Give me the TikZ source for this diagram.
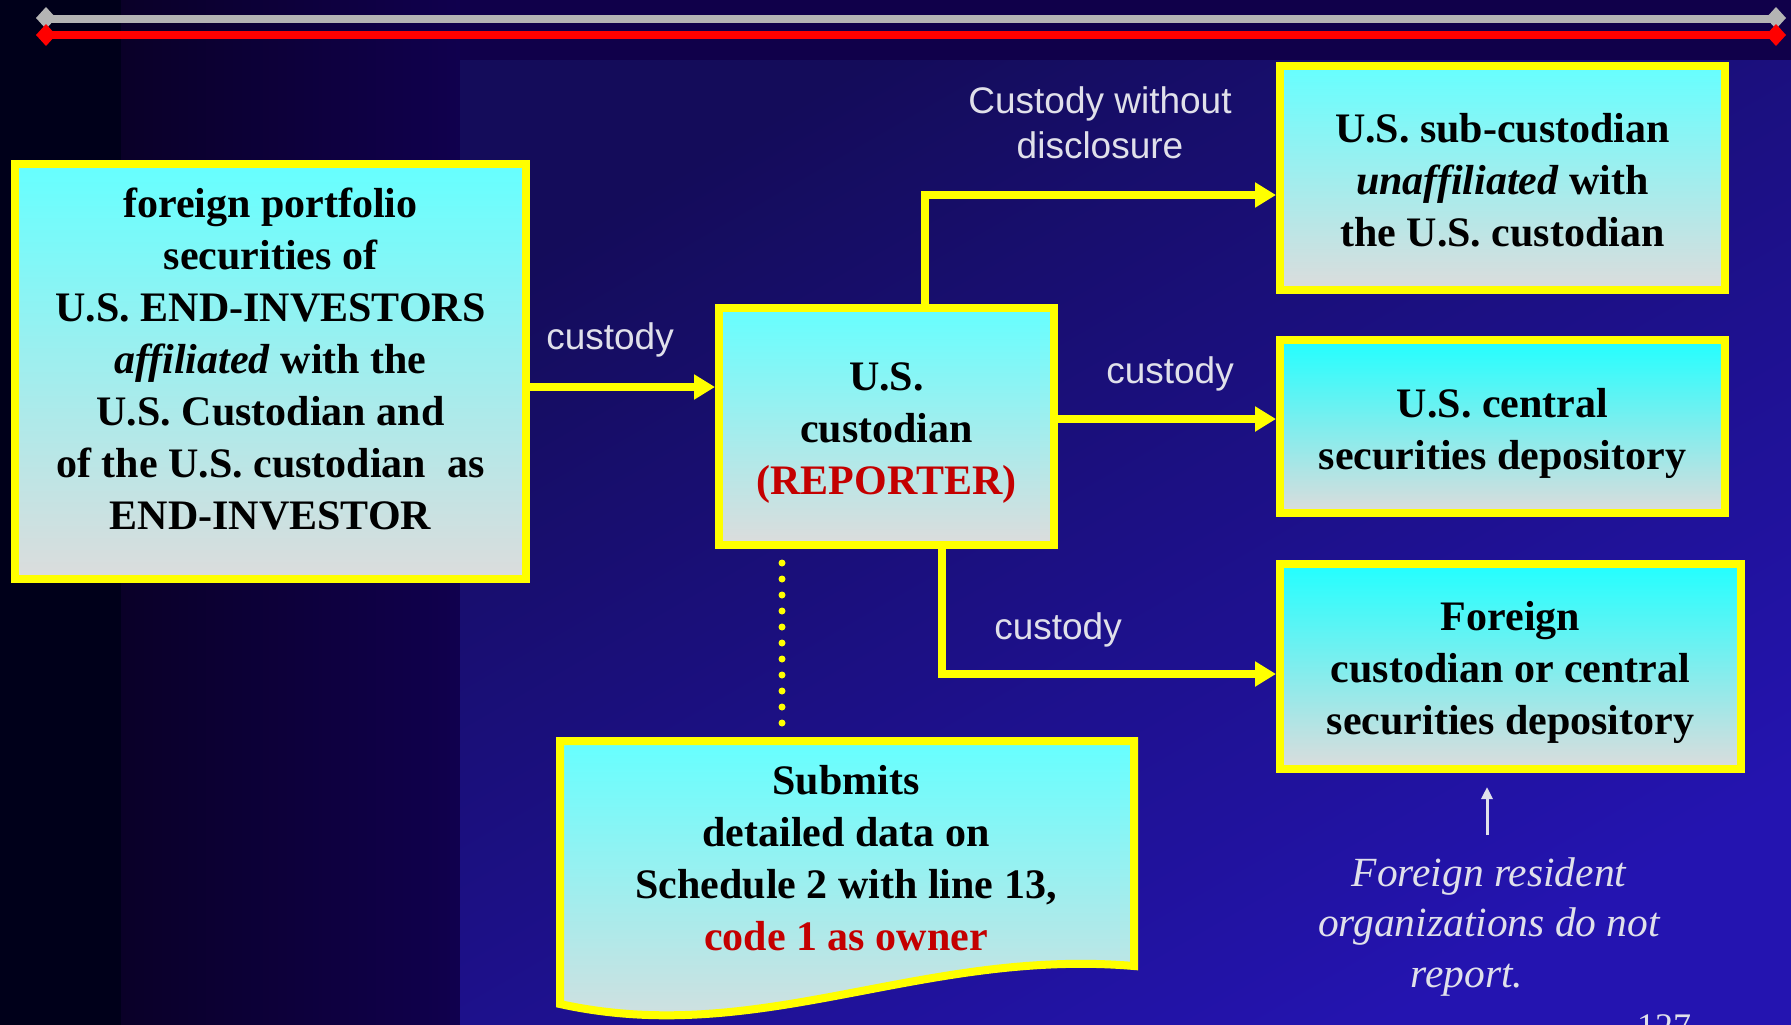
\documentclass[tikz,border=0pt]{standalone}
\usepackage{fontspec}
\setmainfont{Liberation Serif}
\newfontfamily\lblsans{Liberation Sans}
\usetikzlibrary{arrows.meta,calc}
\definecolor{bx}{HTML}{FFFF00}
\definecolor{cyantop}{HTML}{66FFFF}
\definecolor{cyantopb}{HTML}{22FFFF}
\definecolor{graybot}{HTML}{DCDCDC}
\definecolor{redtxt}{HTML}{C40000}
\definecolor{lbl}{HTML}{E0E0EA}
\definecolor{topgray}{HTML}{B4B4B4}
\definecolor{topred}{HTML}{FF0000}
\definecolor{bgblack}{HTML}{00001A}
\definecolor{bgpa}{HTML}{0A0028}
\definecolor{bgpb}{HTML}{10004E}
\definecolor{bgtop}{HTML}{10004A}
\definecolor{bgda}{HTML}{140C5A}
\definecolor{bgdb}{HTML}{2414B0}
\newcommand\bxfont{\fontsize{42}{52}\selectfont\bfseries}
\begin{document}
\begin{tikzpicture}[x=1pt,y=-1pt,
  box/.style={draw=bx, line width=8pt, top color=cyantop, bottom color=graybot,
    inner sep=0pt},
  boxb/.style={box, top color=cyantopb},
  boxtxt/.style={align=center, font=\bxfont, text=black, inner sep=0pt},
  lbltxt/.style={align=center, text=lbl, inner sep=0pt,
    font=\lblsans\fontsize{37}{44.5}\selectfont},
  conn/.style={draw=bx, line width=8pt, line join=miter,
    -{Triangle[length=21pt,width=24pt]}},
  dotline/.style={draw=bx, line width=7pt, line cap=round,
    dash pattern=on 0pt off 16pt},
  whtarrow/.style={draw=lbl, line width=3pt, -{Triangle[length=12pt,width=11pt]}}
]
\useasboundingbox (0,0) rectangle (1791,1025);
\begin{scope}
\clip (0,0) rectangle (1791,1025);
% background
\fill[bgpb] (0,0) rectangle (1791,1025);
\fill[bgblack] (0,0) rectangle (121,1025);
\shade[left color=bgpa, right color=bgpb] (121,0) rectangle (460,1025);
\fill[bgtop] (460,0) rectangle (1791,61);
\shade[top color=bgda, bottom color=bgdb, shading angle=30] (460,61) rectangle (1791,1025);

% top rules
\draw[topgray, line width=8pt] (46,19) -- (1776,19);
\draw[topred, line width=8pt] (46,35) -- (1776,35);
\fill[topgray] (46,7) -- (56,18) -- (46,29) -- (36,18) -- cycle;
\fill[topgray] (1776,7) -- (1786,18) -- (1776,29) -- (1766,18) -- cycle;
\fill[topred] (46,24) -- (56,35) -- (46,46) -- (36,35) -- cycle;
\fill[topred] (1776,24) -- (1786,35) -- (1776,46) -- (1766,35) -- cycle;

% boxes
\node[box, minimum width=511pt, minimum height=415pt] (lbox) at (270.5,371.5) {};
\node[boxtxt] (lboxt) at (270.5,359) {foreign portfolio\\securities of\\U.S. END-INVESTORS\\\textit{affiliated} with the\\U.S. Custodian and\\of the U.S. custodian\ \ as\\END-INVESTOR};

\node[box, minimum width=335pt, minimum height=237pt] (cbox) at (886.5,426.5) {};
\node[boxtxt] (cboxt) at (886.5,433.5) {U.S.\\custodian\\\textcolor{redtxt}{(REPORTER)}};

\node[box, minimum width=445pt, minimum height=224pt] (urbox) at (1502.5,178) {};
\node[boxtxt] (urboxt) at (1502.5,180.5) {U.S. sub-custodian\\\textit{unaffiliated} with\\the U.S. custodian};

\node[boxb, minimum width=445pt, minimum height=173pt] (mrbox) at (1502.5,426.5) {};
\node[boxtxt] (mrboxt) at (1502.5,433) {U.S. central\\securities depository};

\node[boxb, minimum width=461pt, minimum height=205pt] (lrbox) at (1510.5,666.5) {};
\node[boxtxt] (lrboxt) at (1510.5,672.5) {Foreign\\custodian or central\\securities depository};

% document box
\draw[draw=bx, line width=8pt, top color=cyantop, bottom color=graybot]
  (560,741) -- (1134,741) -- (1134,966)
  .. controls (920,948) and (760,1048) .. (560,1004) -- cycle;
\node[boxtxt] (doct) at (846,858)
  {Submits\\detailed data on\\Schedule 2 with line 13,\\\textcolor{redtxt}{code 1 as owner}};
\coordinate (doctop) at (782,737);

% connectors
\draw[conn] (lbox.east |- 0,387) -- (cbox.west |- 0,387);
\draw[conn] (cbox.north -| 925,0) |- (urbox.west |- 0,195);
\draw[conn] (cbox.east |- 0,419) -- (mrbox.west |- 0,419);
\draw[conn] (cbox.south -| 942,0) |- (lrbox.west |- 0,674);
\draw[dotline, shorten <=14pt, shorten >=13.5pt] (cbox.south -| 782,0) -- (doctop);

% labels
\node[lbltxt] (l1) at (610,340) {custody};
\node[lbltxt] (l2) at (1100,123) {Custody without\\disclosure};
\node[lbltxt] (l3) at (1170,374) {custody};
\node[lbltxt] (l4) at (1058,630) {custody};

% note
\coordinate (wbase) at (1487,835);
\draw[whtarrow, shorten >=14pt] (wbase) -- (lrbox.south -| 1487,0);
\node[align=center, text=lbl, inner sep=0pt, font=\fontsize{41.5}{50.5}\selectfont\itshape]
  (note) at (1489,927) {Foreign resident\\organizations do not\\report.\hspace*{44pt}};
\node[anchor=base, text=lbl, inner sep=0pt, font=\fontsize{36}{40}\selectfont]
  (pgnum) at (1664,1038) {127};
\end{scope}
\end{tikzpicture}
\end{document}
